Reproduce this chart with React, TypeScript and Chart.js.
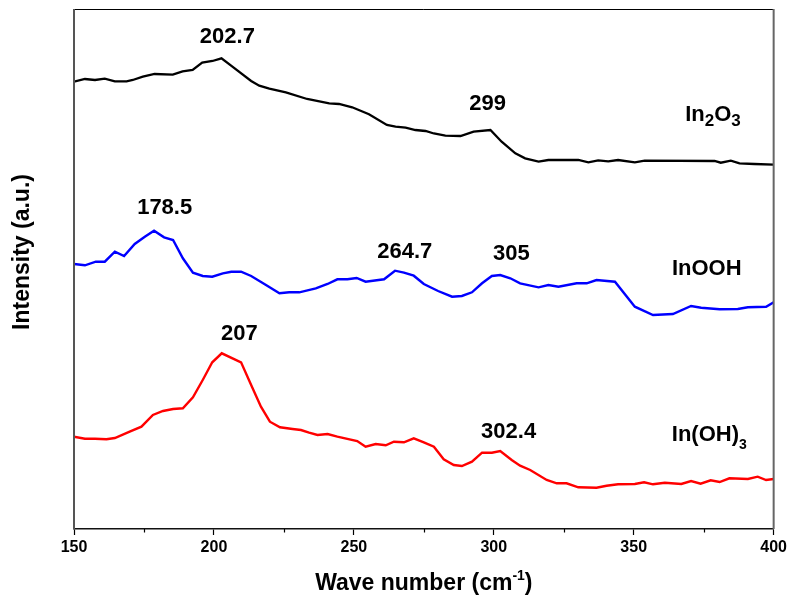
import React, { useEffect, useRef } from "react";
import { Chart, registerables } from "chart.js";

Chart.register(...registerables);

// ---------- data ----------
const xMin = 150;
const xMax = 400;
const xMajorStep = 50;
const minorTickValues = [175, 225, 275, 325, 375];

const waveIn2O3 = [150, 153.9, 157.5, 161, 164.6, 168.8, 171, 174.6, 178.8, 185.3, 188.8, 192.4, 195.8, 199.5, 202.7, 206.6, 213.3, 216.2, 219.8, 225.7, 233.3, 241.2, 244.7, 249.4, 255.4, 261.8, 264.9, 268.5, 272, 275.6, 278.6, 282.7, 288.1, 292.8, 298.8, 302.8, 307.7, 311.2, 316, 319.5, 330.2, 333.8, 337.3, 340.9, 344.4, 350.4, 353.9, 378.9, 381.1, 384.7, 387.8, 393.1, 400];
const intensityIn2O3 = [447.3, 450, 449, 450.3, 447.7, 447.7, 449, 452.3, 455, 454.3, 457.7, 459, 466.3, 468, 470.7, 462.3, 448, 443.3, 440.3, 436.7, 430, 425.7, 425, 421.7, 414.7, 404, 402.3, 401.3, 399, 398, 395.5, 393.3, 393, 397.3, 399, 387.3, 375.7, 370.7, 367.3, 369, 369, 366.7, 368.7, 367.7, 369, 366.7, 368.3, 368, 366.3, 368.3, 365.7, 365, 364.3];

const waveInOOH = [150, 153.9, 157.8, 161, 164.6, 167.9, 171.7, 175.3, 178.6, 182.2, 185.4, 188.9, 192.5, 196, 199.4, 203.2, 206.2, 209.7, 213.3, 218.6, 223.4, 226.9, 230.5, 236.4, 240.6, 244.1, 247.7, 251, 254.2, 260.8, 264.7, 267.9, 271.4, 275, 280.1, 285.1, 288.6, 292.2, 295.8, 299.3, 302.3, 305.9, 309.4, 316, 319.5, 323.1, 329.6, 333.2, 336.7, 343.3, 350.4, 356.9, 364, 370.5, 374.1, 380.7, 387.2, 390.8, 397.3, 400];
const intensityInOOH = [265, 263.7, 267.3, 267.3, 277.3, 273, 285, 292.3, 298.3, 291.7, 289, 270.7, 256.3, 253, 252.3, 255.7, 257.3, 257.3, 253, 244, 235.7, 236.7, 236.7, 240.7, 245, 249.7, 249.7, 251, 247.3, 249.7, 258.3, 256.3, 253.3, 245, 238, 232.3, 233, 236.7, 245.7, 253, 254, 250.7, 245.7, 241.7, 244, 242.3, 245.7, 245.7, 249, 247.3, 222.3, 214, 215, 223, 221.3, 219.7, 220, 221.7, 222.3, 226.7];

const waveInOH3 = [150, 153.9, 157.5, 161.6, 164.6, 169.9, 174.1, 178.2, 181.8, 185.4, 188.9, 192.5, 196, 199.4, 202.8, 209.7, 213.3, 216.8, 220, 223.6, 228.1, 231.1, 234, 237, 240.6, 244.1, 251.2, 254.2, 257.8, 261.4, 264.3, 267.9, 271.4, 275, 278.6, 282.1, 285.7, 288.6, 292.2, 295.8, 299.3, 302.3, 306.4, 309.4, 313, 318.9, 322.5, 326, 330.2, 336.7, 340.3, 344.4, 350.4, 353.7, 356.9, 361.1, 367, 370.5, 373.9, 377.5, 380.7, 384.2, 390.8, 394.3, 397.3, 400];
const intensityInOH3 = [92.3, 90.3, 90.3, 89.7, 91, 97.3, 102.3, 114, 118, 120, 120.7, 131.7, 149, 166.7, 175.7, 166.7, 144, 122.3, 107.3, 101.7, 100, 99, 96.3, 94, 95, 92.3, 88, 82.3, 85, 83.7, 87.3, 86.7, 90.7, 86.7, 82.3, 69.7, 64, 63, 67.3, 76.3, 76.3, 78, 69, 63.3, 59, 49, 45.7, 45.7, 41.7, 41.3, 43.3, 44.7, 45, 46.7, 44.7, 46.3, 45, 48, 45.3, 48.7, 47, 50.7, 50, 52.3, 49, 50];

const yMin = 0;
const yMax = 520;

// peak labels: [text, wave number, intensity]
const peakLabelTexts = ["202.7", "299", "178.5", "264.7", "305", "207", "302.4"];
const peakLabelX = [204.8, 297.8, 182.4, 268.2, 306.3, 209.1, 305.3];
const peakLabelY = [492, 425, 321, 277, 275, 195, 97];

// sample names (parts with subscripts)
const sampleNameParts = [
  [{ t: "In" }, { t: "2", sub: true }, { t: "O" }, { t: "3", sub: true }],
  [{ t: "InOOH" }],
  [{ t: "In(OH)" }, { t: "3", sub: true }],
];
const sampleNameX = [378.3, 376.1, 377.0];
const sampleNameY = [414, 260, 94.5];
const sampleSubSize = [17, 17, 14];
const sampleSubShift = [6.5, 6.5, 11];

const xTitleMain = "Wave number (cm";
const xTitleSup = "-1";
const xTitleEnd = ")";
const yTitle = "Intensity (a.u.)";

const FONT = '"Liberation Sans", Arial, Helvetica, sans-serif';

function zip(xs: number[], ys: number[]) {
  return xs.map((x, i) => ({ x, y: ys[i] }));
}

const decorPlugin = {
  id: "decor",
  afterDraw(chart: any) {
    const { ctx, chartArea, scales } = chart;
    const xs = scales.x;
    const ys = scales.y;
    const { left, right, top, bottom } = chartArea;
    ctx.save();
    // frame
    ctx.lineCap = "butt";
    ctx.strokeStyle = "#000";
    ctx.lineWidth = 1;
    ctx.beginPath();
    ctx.moveTo(left, top + 0.5);
    ctx.lineTo(right, top + 0.5);
    ctx.stroke();
    ctx.strokeStyle = "#555";
    ctx.lineWidth = 2;
    ctx.beginPath();
    ctx.moveTo(left, top);
    ctx.lineTo(left, bottom);
    ctx.stroke();
    ctx.strokeStyle = "#666";
    ctx.beginPath();
    ctx.moveTo(right, top);
    ctx.lineTo(right, bottom);
    ctx.stroke();
    // minor ticks
    ctx.strokeStyle = "#000";
    ctx.lineWidth = 1.2;
    minorTickValues.forEach((v) => {
      const px = Math.round(xs.getPixelForValue(v)) + 0.5;
      ctx.beginPath();
      ctx.moveTo(px, bottom);
      ctx.lineTo(px, bottom + 3.5);
      ctx.stroke();
    });

    // peak labels
    ctx.fillStyle = "#000";
    ctx.font = `bold 22px ${FONT}`;
    ctx.textAlign = "center";
    ctx.textBaseline = "middle";
    peakLabelTexts.forEach((t, i) => {
      ctx.fillText(t, xs.getPixelForValue(peakLabelX[i]), ys.getPixelForValue(peakLabelY[i]));
    });

    // sample names
    ctx.textAlign = "left";
    sampleNameParts.forEach((parts, i) => {
      const mainFont = `bold 22px ${FONT}`;
      const subFont = `bold ${sampleSubSize[i]}px ${FONT}`;
      let total = 0;
      parts.forEach((p: any) => {
        ctx.font = p.sub ? subFont : mainFont;
        total += ctx.measureText(p.t).width;
      });
      let cx = xs.getPixelForValue(sampleNameX[i]) - total / 2;
      const cy = ys.getPixelForValue(sampleNameY[i]);
      parts.forEach((p: any) => {
        ctx.font = p.sub ? subFont : mainFont;
        ctx.fillText(p.t, cx, p.sub ? cy + sampleSubShift[i] : cy);
        cx += ctx.measureText(p.t).width;
      });
    });

    // x title with superscript
    const mainF = `bold 23px ${FONT}`;
    const supF = `bold 14px ${FONT}`;
    ctx.font = mainF;
    const w1 = ctx.measureText(xTitleMain).width;
    const w3 = ctx.measureText(xTitleEnd).width;
    ctx.font = supF;
    const w2 = ctx.measureText(xTitleSup).width;
    const totalW = w1 + w2 + w3;
    let tx = (left + right) / 2 - totalW / 2;
    const baseY = bottom + 61;
    ctx.textBaseline = "alphabetic";
    ctx.font = mainF;
    ctx.fillText(xTitleMain, tx, baseY);
    tx += w1;
    ctx.font = supF;
    ctx.fillText(xTitleSup, tx, baseY - 10);
    tx += w2;
    ctx.font = mainF;
    ctx.fillText(xTitleEnd, tx, baseY);

    // y title
    ctx.save();
    ctx.translate(left - 51, (top + bottom) / 2 - 17);
    ctx.rotate(-Math.PI / 2);
    ctx.textAlign = "center";
    ctx.textBaseline = "middle";
    ctx.font = `bold 23px ${FONT}`;
    ctx.fillText(yTitle, 0, 0);
    ctx.restore();

    ctx.restore();
  },
};

export default function App() {
  const canvasRef = useRef<HTMLCanvasElement | null>(null);

  useEffect(() => {
    const canvas = canvasRef.current;
    if (!canvas) return;
    const chart = new Chart(canvas, {
      type: "line",
      data: {
        datasets: [
          {
            label: "In2O3",
            data: zip(waveIn2O3, intensityIn2O3),
            borderColor: "#000000",
            borderWidth: 2.3,
            pointRadius: 0,
            tension: 0,
            fill: false,
          },
          {
            label: "InOOH",
            data: zip(waveInOOH, intensityInOOH),
            borderColor: "#0000ff",
            borderWidth: 2.4,
            pointRadius: 0,
            tension: 0,
            fill: false,
          },
          {
            label: "In(OH)3",
            data: zip(waveInOH3, intensityInOH3),
            borderColor: "#ff0000",
            borderWidth: 2.4,
            pointRadius: 0,
            tension: 0,
            fill: false,
          },
        ],
      },
      options: {
        responsive: false,
        animation: false,
        devicePixelRatio: 1,
        layout: { padding: { top: 9, right: 14, left: 0, bottom: 0 } },
        plugins: {
          legend: { display: false },
          tooltip: { enabled: false },
        },
        scales: {
          x: {
            type: "linear",
            min: xMin,
            max: xMax,
            afterFit: (s: any) => {
              s.height = 69;
            },
            grid: {
              drawOnChartArea: false,
              drawTicks: true,
              tickLength: 6,
              tickColor: "#000",
              tickWidth: 1.2,
            },
            border: { display: true, color: "#111", width: 1.5 },
            ticks: {
              stepSize: xMajorStep,
              autoSkip: false,
              maxRotation: 0,
              padding: 3,
              color: "#000",
              font: { family: FONT, size: 16, weight: "bold" },
            },
            title: { display: false },
          },
          y: {
            type: "linear",
            min: yMin,
            max: yMax,
            afterFit: (s: any) => {
              s.width = 74;
            },
            grid: { display: false },
            border: { display: false },
            ticks: { display: false },
            title: { display: false },
          },
        },
      },
      plugins: [decorPlugin],
    } as any);
    return () => chart.destroy();
  }, []);

  return (
    <div style={{ position: "absolute", left: 0, top: 0, width: 790, height: 598, background: "#fff" }}>
      <canvas ref={canvasRef} width={790} height={598} />
    </div>
  );
}
